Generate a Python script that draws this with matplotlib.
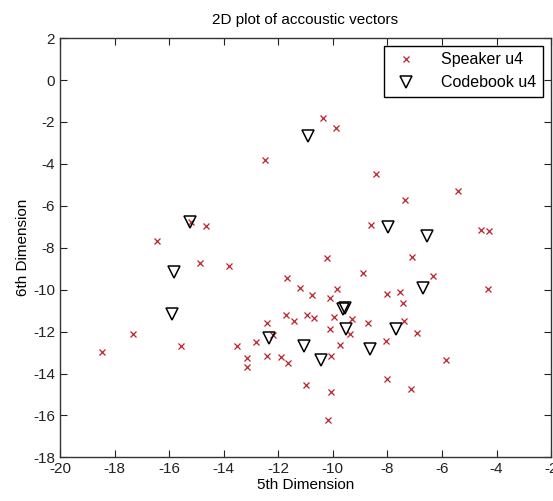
import matplotlib
matplotlib.use("Agg")
import matplotlib.pyplot as plt

# speaker u4 acoustic vectors (5th dim, 6th dim)
speaker_x = [-10.36, -9.90, -12.50, -8.40, -5.42, -7.36, -8.61, -4.57, -4.26,
             -15.20, -14.66, -16.45, -10.23, -7.08, -14.86, -13.82, -11.69,
             -11.19, -10.78, -10.11, -9.83, -8.89, -6.34, -4.30, -8.03, -7.52,
             -7.42, -11.72, -11.44, -10.94, -10.70, -9.95, -9.28, -8.70, -7.39,
             -10.11, -9.38, -6.93, -9.74, -8.05, -11.89, -11.64, -10.08, -5.85,
             -10.99, -10.05, -8.03, -7.15, -10.16, -17.33, -18.45, -15.55,
             -13.53, -13.13, -13.13, -12.80, -12.40, -12.19, -12.40]
speaker_y = [-1.83, -2.27, -3.82, -4.46, -5.27, -5.70, -6.92, -7.15, -7.22,
             -6.75, -6.98, -7.70, -8.49, -8.43, -8.75, -8.86, -9.45,
             -9.90, -10.26, -10.38, -9.98, -9.21, -9.34, -9.98, -10.22, -10.09,
             -10.63, -11.21, -11.49, -11.21, -11.33, -11.29, -11.38, -11.57, -11.49,
             -11.86, -12.10, -12.08, -12.63, -12.45, -13.21, -13.52, -13.17, -13.37,
             -14.57, -14.87, -14.24, -14.76, -16.23, -12.10, -12.96, -12.70,
             -12.70, -13.28, -13.69, -12.50, -11.57, -12.18, -13.17]

# codebook centroids
code_x = [-10.91, -15.25, -7.99, -6.56, -15.83, -15.91, -6.69, -9.62, -9.56,
          -7.69, -9.50, -11.06, -8.64, -10.42, -12.34]
code_y = [-2.66, -6.79, -7.03, -7.43, -9.18, -11.14, -9.93, -10.93, -10.86,
          -11.86, -11.86, -12.69, -12.85, -13.37, -12.29]

xticks = list(range(-20, -1, 2))
yticks = list(range(-18, 3, 2))

plt.rcParams['font.family'] = ['Liberation Sans Narrow', 'Liberation Sans', 'DejaVu Sans']
plt.rcParams['font.size'] = 11
plt.rcParams['axes.unicode_minus'] = False

fig = plt.figure(figsize=(5.53, 5.01), dpi=100)
ax = fig.add_axes([0.1085, 0.087, 0.888, 0.837])

ax.plot(speaker_x, speaker_y, 'x', color='#c0202a', markersize=4.5,
        markeredgewidth=0.9, label='Speaker u4')
ax.plot(code_x, code_y, 'v', markerfacecolor='none', markeredgecolor='black',
        markersize=8.5, markeredgewidth=1.1, label='Codebook u4')

ax.set_xlim(-20, -2)
ax.set_ylim(-18, 2)
ax.set_xticks(xticks)
ax.set_yticks(yticks)
ax.tick_params(direction='in', top=True, right=True, length=5, width=0.8,
               labelsize=11, colors='#222222')
for s in ax.spines.values():
    s.set_linewidth(1.0)
    s.set_color('#333333')

ax.set_title('2D plot of accoustic vectors', fontsize=11, pad=10)
ax.set_xlabel('5th Dimension', fontsize=11, labelpad=1)
ax.set_ylabel('6th Dimension', fontsize=11, labelpad=2)

leg = ax.legend(loc='upper right', fancybox=False, framealpha=1,
                edgecolor='black', fontsize=11.5, borderaxespad=0.5,
                handletextpad=1.2, borderpad=0.4)
leg.get_frame().set_linewidth(1.0)

fig.savefig('out.png', dpi=100)
